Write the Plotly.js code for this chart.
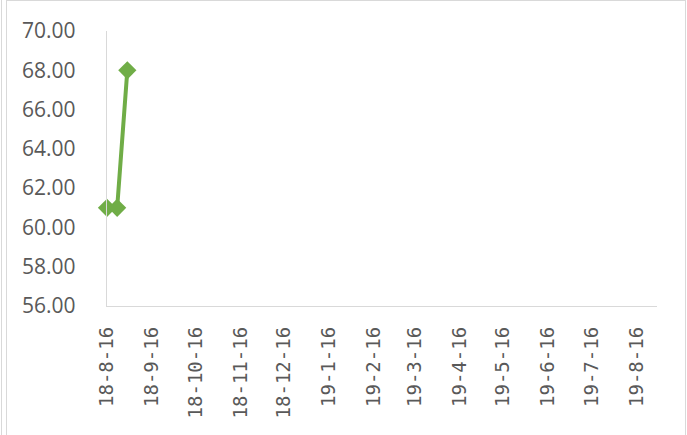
<!DOCTYPE html>
<html>
<head>
<meta charset="utf-8">
<script src="https://cdn.plot.ly/plotly-3.0.1.min.js"></script>
<style>
html,body{margin:0;padding:0;background:#fff;}
#wrap{position:relative;width:687px;height:435px;overflow:hidden;}
#chart{position:absolute;left:0;top:0;width:687px;height:435px;}
.b{position:absolute;background:#d9d9d9;}
</style>
</head>
<body>
<div id="wrap">
<div id="chart"></div>
<div class="b" style="left:1px;top:0;width:1px;height:435px;"></div>
<div class="b" style="left:6px;top:0;width:1px;height:435px;"></div>
<div class="b" style="left:6px;top:0;width:680px;height:1px;"></div>
<div class="b" style="left:685px;top:0;width:1px;height:435px;"></div>
</div>
<script>
const dates = ['2018-08-16', '2018-08-23', '2018-08-30'];
const values = [61, 61, 68];
const tickDates = ['2018-08-16','2018-09-16','2018-10-16','2018-11-16','2018-12-16','2019-01-16','2019-02-16','2019-03-16','2019-04-16','2019-05-16','2019-06-16','2019-07-16','2019-08-16'];
const tickLabels = ['18-8-16','18-9-16','18-10-16','18-11-16','18-12-16','19-1-16','19-2-16','19-3-16','19-4-16','19-5-16','19-6-16','19-7-16','19-8-16'];
const yTicks = [56, 58, 60, 62, 64, 66, 68, 70];
const yLabels = yTicks.map(v => v.toFixed(2));

const trace = {
  x: dates, y: values, type: 'scatter', mode: 'lines+markers',
  line: {color: '#70AD47', width: 4},
  marker: {symbol: 'diamond', size: 14, color: '#70AD47'},
  cliponaxis: false, showlegend: false, hoverinfo: 'none'
};
const layout = {
  width: 687, height: 435,
  margin: {l: 107, r: 30, t: 31, b: 129},
  paper_bgcolor: 'rgba(0,0,0,0)', plot_bgcolor: 'rgba(0,0,0,0)',
  showlegend: false,
  xaxis: {
    type: 'date', range: ['2018-08-16', '2019-08-30'],
    tickmode: 'array', tickvals: tickDates, ticktext: tickLabels,
    tickangle: -90, showgrid: false, zeroline: false,
    showline: true, linecolor: '#d9d9d9', linewidth: 1.3,
    ticks: '', ticklabelstandoff: 12,
    tickfont: {family: 'DejaVu Sans Mono', size: 19, color: '#595959'}
  },
  yaxis: {
    range: [56, 70], tickmode: 'array', tickvals: yTicks, ticktext: yLabels,
    showgrid: false, zeroline: false,
    showline: true, linecolor: '#d9d9d9', linewidth: 1.3,
    ticks: '', ticklabelstandoff: 26,
    tickfont: {family: 'Open Sans', size: 21, color: '#595959'}
  }
};
Plotly.newPlot('chart', [trace], layout, {displayModeBar: false, staticPlot: true});
</script>
</body>
</html>
